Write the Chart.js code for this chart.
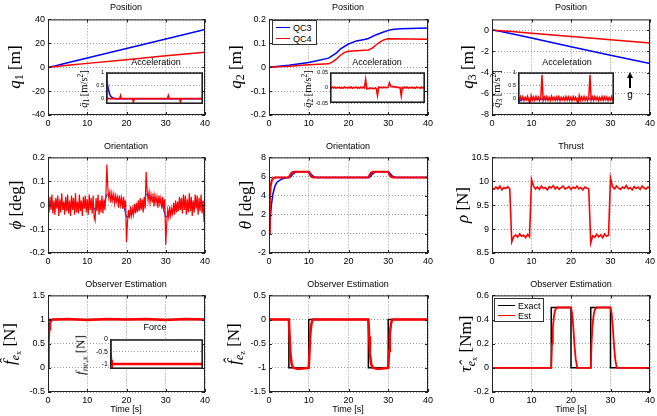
<!DOCTYPE html>
<html>
<head>
<meta charset="utf-8">
<script src="https://cdn.jsdelivr.net/npm/chart.js@4.4.1/dist/chart.umd.min.js"></script>
<style>
body { margin: 0; width: 657px; height: 416px; position: relative; overflow: hidden; background: #fff;
       font-family: 'Liberation Sans', Arial, Helvetica, sans-serif; }
canvas { position: absolute; }
.t { position: absolute; z-index: 5; font-size: 9px; white-space: nowrap; transform: translate(-50%, -50%); }
.yl { position: absolute; z-index: 5; font-family: 'Liberation Serif', 'DejaVu Serif', serif; font-size: 17px;
      white-space: nowrap; transform: translate(-50%, -50%) rotate(-90deg); line-height: 1; }
.yl.small { font-size: 10.5px; }
.yl.mid { font-size: 13px; }
sub { font-size: 70%; vertical-align: -0.3em; line-height: 0; }
sup { font-size: 70%; vertical-align: 0.5em; line-height: 0; }
.lg { position: absolute; z-index: 5; background: #fff; border: 1px solid #333; box-sizing: border-box; }
.sw { position: absolute; height: 0; border-top: 1.5px solid; }
.lt { position: absolute; font-size: 9px; transform: translateY(-50%); white-space: nowrap; }
</style>
</head>
<body>

<!-- titles -->
<div class="t" style="left:126px;top:7px">Position</div>
<div class="t" style="left:348px;top:7px">Position</div>
<div class="t" style="left:571px;top:7px">Position</div>
<div class="t" style="left:126px;top:146px">Orientation</div>
<div class="t" style="left:348px;top:146px">Orientation</div>
<div class="t" style="left:571px;top:146px">Thrust</div>
<div class="t" style="left:126px;top:284px">Observer Estimation</div>
<div class="t" style="left:348px;top:284px">Observer Estimation</div>
<div class="t" style="left:571px;top:284px">Observer Estimation</div>
<div class="t" style="left:126px;top:409px">Time [s]</div>
<div class="t" style="left:348px;top:409px">Time [s]</div>
<div class="t" style="left:571px;top:409px">Time [s]</div>
<div class="t" style="left:156px;top:62px">Acceleration</div>
<div class="t" style="left:377px;top:62px">Acceleration</div>
<div class="t" style="left:567px;top:62px">Acceleration</div>
<div class="t" style="left:155px;top:327px">Force</div>

<!-- y labels -->
<div class="yl" style="left:14px;top:67px"><i>q</i><sub>1</sub> [m]</div>
<div class="yl" style="left:235px;top:67px"><i>q</i><sub>2</sub> [m]</div>
<div class="yl" style="left:467px;top:67px"><i>q</i><sub>3</sub> [m]</div>
<div class="yl" style="left:15px;top:205px"><i>ϕ</i> [deg]</div>
<div class="yl" style="left:245px;top:205px"><i>θ</i> [deg]</div>
<div class="yl" style="left:462px;top:205px"><i>ρ</i> [N]</div>
<div class="yl" style="left:10px;top:344px"><i>f&#770;</i><sub><i>e</i><sub>x</sub></sub> [N]</div>
<div class="yl" style="left:234px;top:344px"><i>f&#770;</i><sub><i>e</i><sub>z</sub></sub> [N]</div>
<div class="yl" style="left:466px;top:344px"><i>τ&#770;</i><sub><i>e</i><sub>x</sub></sub> [Nm]</div>
<div class="yl small" style="left:84px;top:89px"><i>q&#776;</i><sub>1</sub> [m/s<sup>2</sup>]</div>
<div class="yl small" style="left:308px;top:89px"><i>q&#776;</i><sub>2</sub> [m/s<sup>2</sup>]</div>
<div class="yl small" style="left:497px;top:89px"><i>q&#776;</i><sub>3</sub> [m/s<sup>2</sup>]</div>
<div class="yl mid" style="left:80px;top:355px"><i>f</i><sub><i>ne,x</i></sub> [N]</div>

<!-- legends -->
<div class="lg" style="left:272px;top:20px;width:45px;height:25px">
  <div class="sw" style="left:3px;top:6px;width:14px;border-color:#0000ff"></div><div class="lt" style="left:20px;top:6.5px">QC3</div>
  <div class="sw" style="left:3px;top:17px;width:14px;border-color:#ff0000"></div><div class="lt" style="left:20px;top:17.5px">QC4</div>
</div>
<div class="lg" style="left:494px;top:298px;width:50px;height:24px">
  <div class="sw" style="left:3px;top:6px;width:17px;border-color:#000"></div><div class="lt" style="left:23px;top:6.5px">Exact</div>
  <div class="sw" style="left:3px;top:16px;width:17px;border-color:#ff0000"></div><div class="lt" style="left:23px;top:16.5px">Est</div>
</div>

<!-- gravity arrow -->
<div style="position:absolute;z-index:5;left:629px;top:77px;width:1.5px;height:11px;background:#000"></div>
<div style="position:absolute;z-index:5;left:627px;top:72px;width:0;height:0;border-left:3px solid transparent;border-right:3px solid transparent;border-bottom:6px solid #000"></div>
<div class="t" style="left:630px;top:94px;font-size:10px">g</div>

<script>
// ---------- data ----------
const xTicks = [0, 10, 20, 30, 40];
const dtLog = 0.5;      // sample step of the noisy logs [s]
const dtPhi = 0.25;     // roll log is denser

// Position
const q1Time = [0, 2, 5, 10, 20, 30, 40];
const q1QC3 = [0, 1.3, 3.7, 7.7, 15.7, 23.6, 31.6];
const q1QC4 = [0, 0.6, 1.6, 3.2, 6.3, 9.5, 12.6];

const q2TimeQC3 = [0, 5, 10, 15, 17, 18, 20, 22, 24, 25, 27, 29, 30, 31, 33, 40];
const q2QC3 = [0, 0.008, 0.02, 0.038, 0.06, 0.077, 0.097, 0.11, 0.116, 0.12, 0.136, 0.148, 0.154, 0.158, 0.161, 0.164];
const q2TimeQC4 = [0, 5, 10, 15, 16, 17, 18, 19, 20, 25, 26, 27, 28, 29, 30, 40];
const q2QC4 = [0, 0.004, 0.01, 0.014, 0.022, 0.035, 0.05, 0.062, 0.067, 0.072, 0.08, 0.094, 0.106, 0.115, 0.119, 0.117];

const q3Time = [0, 2, 5, 10, 20, 30, 40];
const q3QC3 = [0, -0.12, -0.35, -0.76, -1.58, -2.37, -3.15];
const q3QC4 = [0, -0.06, -0.15, -0.3, -0.61, -0.92, -1.22];

// Acceleration insets
const a1TimeQC3 = [0, 0.5, 1, 1.5, 2, 3, 4, 40];
const a1QC3 = [1, 0.6, 0.35, 0.18, 0.08, 0.02, 0, 0];
const a1TimeQC4 = [0, 0.3, 0.6, 5.7, 6, 6.3, 11, 11.3, 11.6, 25.4, 25.7, 26, 30.4, 30.7, 31, 40];
const a1QC4 = [1, 0.1, 0, 0, 0.1, 0, 0, -0.1, 0, 0, 0.1, 0, 0, -0.1, 0, 0];

const a2QC4 = [
  0.001, -0.002, 0.002, -0.001, 0.002, -0.002, 0.001, -0.001, 0.002, -0.002,
  0.001, -0.002, 0.002, -0.001, 0.001, -0.002, 0.002, -0.001, 0.002, -0.002,
  0.001, -0.001, 0.002, -0.002, 0.001, -0.002, 0.002, -0.001, 0.002, -0.001,
  0.027, -0.004, -0.002, -0.004, -0.001, -0.003, -0.002, -0.004, -0.001, -0.003,
  -0.026, 0.002, 0, 0.002, -0.001, 0.002, 0, 0.002, -0.001, 0.001,
  0.016, 0.006, 0.003, 0.004, 0.002, 0.003, 0.001, 0.002, 0, 0.001,
  -0.027, 0.001, -0.002, 0.002, -0.001, 0.002, -0.002, 0.001, -0.001, 0.002,
  -0.002, 0.001, -0.002, 0.002, -0.001, 0.001, -0.002, 0.002, -0.001, 0.002,
  0];

const a3TimeQC3 = [0, 1, 2, 40];
const a3QC3 = [-0.12, -0.06, -0.02, 0];
const a3QC4 = [
  0.06, -0.06, 0.08, -0.05, 0.07, -0.07, 0.05, -0.04, 0.09, -0.06,
  -0.2, 0.12, -0.05, 0.07, -0.06, 0.08, -0.04, 0.06, -0.07, 0.05,
  0.9, -0.06, 0.07, -0.05, 0.08, -0.06, 0.05, -0.07, 0.09, -0.04,
  0.06, -0.06, 0.07, -0.05, 0.08, -0.07, 0.05, -0.04, 0.06, -0.06,
  0.08, -0.05, 0.07, -0.06, 0.05, -0.07, 0.08, -0.04, 0.06, -0.05,
  -0.2, 0.12, -0.06, 0.07, -0.05, 0.08, -0.06, 0.05, -0.07, 0.06,
  0.9, -0.05, 0.07, -0.06, 0.08, -0.04, 0.06, -0.07, 0.05, -0.05,
  0.08, -0.06, 0.07, -0.04, 0.06, -0.07, 0.05, -0.05, 0.08, -0.06,
  0.06];

// Orientation (roll, every 0.25 s)
const phiQC4 = [
  0.01, -0.03, 0.035, -0.02, 0.045, -0.035, 0.02, -0.04,
  0.03, -0.015, 0.04, -0.045, 0.025, -0.03, 0.05, -0.02,
  0.015, -0.04, 0.035, -0.025, 0.045, -0.035, 0.02, -0.045,
  0.04, -0.02, 0.03, -0.04, 0.05, -0.03, 0.015, -0.035,
  0.045, -0.025, 0.02, -0.045, 0.035, -0.015, 0.04, -0.03,
  0.025, -0.04, 0.045, -0.02, 0.03, -0.035, 0.04, -0.05,
  -0.065, 0.03, -0.025, 0.045, -0.04, 0.02, -0.03, 0.04,
  -0.035, 0.025, -0.02, 0.045, 0.17, 0.07, 0.03, 0.055,
  0.01, 0.05, 0.02, 0.045, 0.005, 0.04, 0.015, 0.035,
  -0.01, 0.04, 0, 0.03, -0.015, 0.035, -0.005, 0.02,
  -0.155, -0.07, -0.02, -0.055, -0.005, -0.045, -0.015, -0.04,
  0.005, -0.035, 0.01, -0.03, 0.02, -0.025, 0.03, -0.02,
  0.025, -0.03, 0.035, -0.015, 0.14, 0.06, 0.02, 0.055,
  0.01, 0.045, 0.015, 0.05, -0.005, 0.04, 0.01, 0.035,
  -0.01, 0.04, 0.005, 0.03, -0.015, 0.035, -0.01, 0.025,
  -0.165, -0.075, -0.02, -0.05, -0.005, -0.045, -0.015, -0.035,
  0.01, -0.04, 0.02, -0.03, 0.015, -0.025, 0.035, -0.02,
  0.03, -0.035, 0.045, -0.02, 0.04, -0.04, 0.025, -0.03,
  0.05, -0.025, 0.035, -0.045, 0.02, -0.03, 0.045, -0.015,
  0.04, -0.04, 0.03, -0.025, 0.045, -0.035, 0.02, -0.07,
  0.03];
const phiQC3 = [
  0.01, -0.01, 0.015, -0.005, 0.01, -0.015, 0.005, 0.012, -0.01, 0.008,
  -0.012, 0.01, -0.02, 0.006, -0.008, 0.045, 0.035, 0.03, 0.025, 0.015,
  -0.05, -0.04, -0.025, -0.015, -0.005, 0.045, 0.035, 0.03, 0.02, 0.012,
  -0.05, -0.04, -0.025, -0.015, -0.005, 0.01, -0.01, 0.012, -0.008, 0.01,
  0.015];

const thetaTimeQC4 = [0, 0.2, 0.4, 0.7, 1, 1.5, 5, 5.3, 5.7, 6.2, 10, 10.3, 10.7, 11.2, 25, 25.3, 25.7, 26.2, 30, 30.3, 30.7, 31.2, 40];
const thetaQC4 = [0, 3.5, 5.0, 5.6, 5.8, 5.9, 5.9, 6.15, 6.4, 6.5, 6.5, 6.2, 5.97, 5.9, 5.9, 6.15, 6.4, 6.5, 6.5, 6.2, 5.97, 5.9, 5.9];
const thetaTimeQC3 = [0, 0.3, 0.6, 1, 1.5, 2, 3, 4, 5, 5.5, 6, 6.5, 7, 10, 10.5, 11, 11.5, 12, 25, 25.5, 26, 26.5, 27, 30, 30.5, 31, 31.5, 32, 40];
const thetaQC3 = [0, 1.5, 3.0, 4.2, 5.0, 5.4, 5.7, 5.85, 5.9, 6.0, 6.25, 6.4, 6.5, 6.5, 6.3, 6.05, 5.95, 5.9, 5.9, 6.0, 6.25, 6.4, 6.5, 6.5, 6.3, 6.05, 5.95, 5.9, 5.9];

// Thrust
const rhoQC4 = [
  9.87, 9.83, 9.88, 9.84, 9.9, 9.82, 9.87, 9.85, 9.89, 9.84,
  8.73, 8.84, 8.88, 8.83, 8.9, 8.85, 8.87, 8.82, 8.89, 8.84,
  10.04, 9.9, 9.84, 9.88, 9.83, 9.9, 9.85, 9.87, 9.82, 9.89,
  9.86, 9.91, 9.84, 9.88, 9.83, 9.87, 9.9, 9.84, 9.86, 9.89,
  9.83, 9.88, 9.85, 9.9, 9.84, 9.87, 9.82, 9.88, 9.86, 9.84,
  8.71, 8.86, 8.83, 8.89, 8.84, 8.88, 8.82, 8.9, 8.85, 8.87,
  10.07, 9.89, 9.84, 9.9, 9.86, 9.83, 9.88, 9.85, 9.91, 9.84,
  9.87, 9.82, 9.89, 9.85, 9.88, 9.83, 9.9, 9.86, 9.84, 9.88,
  9.85];

// Observer estimation
const fexTimeExact = [0, 0, 40];
const fexExact = [0, 1, 1];
const fexTimeEst = [0, 0.15, 0.3, 0.5, 0.8, 1.2, 2, 5, 10, 15, 20, 25, 30, 35, 40];
const fexEst = [0, 0.55, 0.8, 0.93, 0.98, 1.0, 1.0, 1.01, 0.99, 1.01, 1.0, 1.01, 0.99, 1.01, 1.0];

const fneTimeExact = [0, 0, 40];
const fneExact = [0, -1, -1];
const fneTimeEst = [0, 0.2, 0.5, 0.8, 1.2, 2, 5, 40];
const fneEst = [0, -0.5, -0.85, -0.95, -0.99, -1.0, -1.0, -1.0];

const fezTimeExact = [0, 5, 5, 10, 10, 25, 25, 30, 30, 40];
const fezExact = [0, 0, -1, -1, 0, 0, -1, -1, 0, 0];
const fezTimeEst = [0, 5, 5.2, 5.4, 5.7, 6, 7, 8, 9, 10, 10.2, 10.4, 10.7, 11, 25, 25.2, 25.4, 25.7, 26, 27, 28, 30, 30.2, 30.4, 30.7, 31, 40];
const fezEst = [0, 0, -0.35, -0.7, -0.92, -0.99, -1.02, -1.02, -1.01, -1.0, -0.65, -0.3, -0.08, 0, 0, -0.35, -0.7, -0.92, -0.99, -1.02, -1.02, -1.0, -0.65, -0.3, -0.08, 0, 0];

const tauTimeExact = [0, 15, 15, 20, 20, 25, 25, 30, 30, 40];
const tauExact = [0, 0, 0.5, 0.5, 0, 0, 0.5, 0.5, 0, 0];
const tauTimeEst = [0, 15, 15.2, 15.4, 15.7, 16, 16.5, 20, 20.3, 20.6, 20.9, 21.2, 21.6, 25, 25.2, 25.4, 25.7, 26, 26.5, 30, 30.3, 30.6, 30.9, 31.2, 31.6, 40];
const tauEst = [0, 0, 0.2, 0.33, 0.43, 0.48, 0.5, 0.5, 0.45, 0.33, 0.18, 0.07, 0, 0, 0.2, 0.33, 0.43, 0.48, 0.5, 0.5, 0.45, 0.33, 0.18, 0.07, 0, 0];

// ---------- drawing ----------
Chart.defaults.font.family = "'Liberation Sans', Arial, Helvetica, sans-serif";
Chart.defaults.font.size = 9;
Chart.defaults.color = '#000';

const BLUE = '#0000ff', RED = '#ff0000', BLACK = '#000000';

const pairs = (t, v) => v.map((y, i) => ({x: t[i], y: y}));
const sampled = (v, step) => v.map((y, i) => ({x: i * step, y: y}));
const line = (data, color, width, order) => ({data, borderColor: color, borderWidth: width, order, pointRadius: 0, fill: false, tension: 0});

// white plot area, box frame and inward tick marks (matlab style)
const frame = {
  id: 'frame',
  beforeDraw(chart) {
    const {ctx, chartArea: a} = chart;
    ctx.save();
    ctx.fillStyle = '#fff';
    ctx.fillRect(a.left, a.top, a.right - a.left, a.bottom - a.top);
    ctx.restore();
  },
  afterDraw(chart, args, opts) {
    const {ctx, chartArea: a, scales} = chart;
    ctx.save();
    ctx.strokeStyle = '#222';
    ctx.lineWidth = opts.width;
    const o = opts.width / 2;
    ctx.strokeRect(a.left + o, a.top + o, a.right - a.left - 2 * o, a.bottom - a.top - 2 * o);
    if (opts.marks) {
      ctx.lineWidth = 1;
      ctx.beginPath();
      scales.x.ticks.forEach(tk => {
        const px = Math.round(scales.x.getPixelForValue(tk.value)) + 0.5;
        ctx.moveTo(px, a.bottom); ctx.lineTo(px, a.bottom - 3);
        ctx.moveTo(px, a.top); ctx.lineTo(px, a.top + 3);
      });
      scales.y.ticks.forEach(tk => {
        const py = Math.round(scales.y.getPixelForValue(tk.value)) + 0.5;
        ctx.moveTo(a.left, py); ctx.lineTo(a.left + 3, py);
        ctx.moveTo(a.right, py); ctx.lineTo(a.right - 3, py);
      });
      ctx.stroke();
    }
    ctx.restore();
  }
};
Chart.register(frame);

const mainPad = {left: 34, top: 8, right: 10, bottom: 16};

function plot(box, pad, ax, datasets) {
  const [l, t, r, b] = box;
  const cv = document.createElement('canvas');
  const w = r - l + pad.left + pad.right;
  const h = b - t + pad.top + pad.bottom;
  cv.width = w; cv.height = h;
  cv.style.left = (l - pad.left) + 'px';
  cv.style.top = (t - pad.top) + 'px';
  cv.style.width = w + 'px';
  cv.style.height = h + 'px';
  document.body.appendChild(cv);
  const setTicks = arr => s => { s.ticks = arr.map(v => ({value: v})); };
  const inset = !!ax.inset;
  new Chart(cv, {
    type: 'line',
    data: {datasets},
    options: {
      responsive: false, animation: false, events: [], devicePixelRatio: 1,
      layout: {padding: {left: 0, top: pad.top, right: pad.right, bottom: inset ? pad.bottom : 0}},
      plugins: {legend: {display: false}, tooltip: {enabled: false}, title: {display: false},
                frame: {width: inset ? 1.6 : 1, marks: !inset}},
      scales: {
        x: {
          type: 'linear', min: 0, max: 40, display: !inset,
          afterBuildTicks: setTicks(xTicks),
          afterFit: s => { s.height = pad.bottom; },
          grid: {color: '#999', lineWidth: 1, drawTicks: false},
          border: {display: false, dash: [1, 2]},
          ticks: {padding: 3, maxRotation: 0, autoSkip: false, callback: v => String(v)}
        },
        y: {
          type: 'linear', min: ax.min, max: ax.max,
          afterBuildTicks: setTicks(ax.ticks),
          afterFit: s => { s.width = pad.left; },
          grid: {color: '#999', lineWidth: 1, drawTicks: false},
          border: {display: false, dash: [1, 2]},
          ticks: {padding: inset ? 2 : 3, autoSkip: false, font: {size: ax.font || 9}, callback: v => String(v)}
        }
      }
    }
  });
}

// row 1: position
plot([48, 19, 205, 115], mainPad, {min: -40, max: 40, ticks: [-40, -20, 0, 20, 40]}, [
  line(pairs(q1Time, q1QC4), RED, 1.5, 0),
  line(pairs(q1Time, q1QC3), BLUE, 1.5, 1)
]);
plot([269, 19, 428, 115], mainPad, {min: -0.2, max: 0.2, ticks: [-0.2, -0.1, 0, 0.1, 0.2]}, [
  line(pairs(q2TimeQC4, q2QC4), RED, 1.5, 0),
  line(pairs(q2TimeQC3, q2QC3), BLUE, 1.5, 1)
]);
plot([492, 19, 650, 115], mainPad, {min: -8, max: 1, ticks: [-8, -6, -4, -2, 0]}, [
  line(pairs(q3Time, q3QC4), RED, 1.5, 0),
  line(pairs(q3Time, q3QC3), BLUE, 1.5, 1)
]);

// row 2: orientation, thrust
plot([48, 157, 205, 253], mainPad, {min: -0.2, max: 0.2, ticks: [-0.2, -0.1, 0, 0.1, 0.2]}, [
  line(sampled(phiQC4, dtPhi), RED, 1.2, 0),
  line(sampled(phiQC3, 1), BLUE, 1, 1)
]);
plot([269, 157, 428, 253], mainPad, {min: -2, max: 8, ticks: [-2, 0, 2, 4, 6, 8]}, [
  line(pairs(thetaTimeQC4, thetaQC4), RED, 2.2, 0),
  line(pairs(thetaTimeQC3, thetaQC3), BLUE, 1.5, 1)
]);
plot([492, 157, 650, 253], mainPad, {min: 8.5, max: 10.5, ticks: [8.5, 9, 9.5, 10, 10.5]}, [
  line(sampled(rhoQC4, dtLog), RED, 1.6, 0)
]);

// row 3: observer estimation
plot([48, 295, 205, 392], mainPad, {min: -0.5, max: 1.5, ticks: [-0.5, 0, 0.5, 1, 1.5]}, [
  line(pairs(fexTimeEst, fexEst), RED, 2.5, 0),
  line(pairs(fexTimeExact, fexExact), BLACK, 1.5, 1)
]);
plot([269, 295, 428, 392], mainPad, {min: -1.5, max: 0.5, ticks: [-1.5, -1, -0.5, 0, 0.5]}, [
  line(pairs(fezTimeEst, fezEst), RED, 2.5, 0),
  line(pairs(fezTimeExact, fezExact), BLACK, 1.5, 1)
]);
plot([492, 295, 650, 392], mainPad, {min: -0.2, max: 0.6, ticks: [-0.2, 0, 0.2, 0.4, 0.6]}, [
  line(pairs(tauTimeEst, tauEst), RED, 1.8, 0),
  line(pairs(tauTimeExact, tauExact), BLACK, 1.5, 1)
]);

// insets
plot([106, 71, 203, 108], {left: 16, top: 4, right: 2, bottom: 4}, {inset: true, min: -0.2, max: 1, ticks: [0, 0.5, 1], font: 5.5}, [
  line(pairs(a1TimeQC4, a1QC4), RED, 1.8, 0),
  line(pairs(a1TimeQC3, a1QC3), BLUE, 1.5, 1)
]);
plot([330, 71, 425, 107], {left: 18, top: 4, right: 2, bottom: 4}, {inset: true, min: -0.05, max: 0.05, ticks: [-0.05, 0, 0.05], font: 5.5}, [
  line(sampled(a2QC4, dtLog), RED, 1.5, 0)
]);
plot([518, 71, 614, 108], {left: 16, top: 4, right: 2, bottom: 4}, {inset: true, min: -0.2, max: 1, ticks: [0, 0.5, 1], font: 5.5}, [
  line(sampled(a3QC4, dtLog), RED, 1.5, 0),
  line(pairs(a3TimeQC3, a3QC3), BLUE, 1.5, 1)
]);
plot([110, 337, 203, 373], {left: 22, top: 4, right: 2, bottom: 4}, {inset: true, min: -1.2, max: 0, ticks: [-1, -0.5, 0], font: 7}, [
  line(pairs(fneTimeEst, fneEst), RED, 2.5, 0),
  line(pairs(fneTimeExact, fneExact), BLACK, 1.5, 1)
]);
</script>
</body>
</html>
